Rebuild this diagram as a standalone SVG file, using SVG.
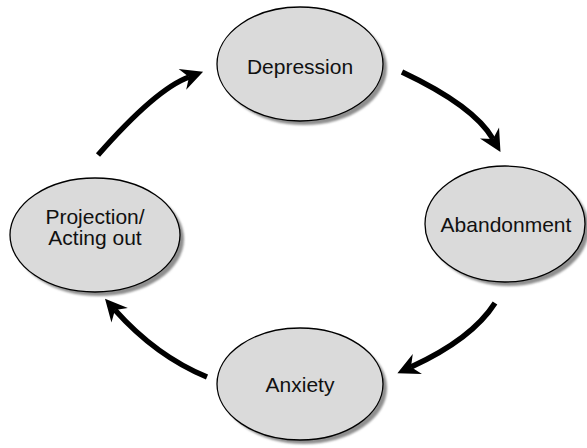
<svg xmlns="http://www.w3.org/2000/svg" width="587" height="448" viewBox="0 0 587 448">
<style>
.shadow{fill:#8f8f8f;stroke:none}
.node{fill:#dadada;stroke:#000;stroke-width:1.3}
.label{font-family:"Liberation Sans",Arial,sans-serif;font-size:21px;fill:#111;text-anchor:middle}
.conn{fill:none;stroke:#000;stroke-width:5.5;marker-end:url(#ah)}
</style>
<defs>
<filter id="blur" x="-10%" y="-10%" width="120%" height="120%"><feGaussianBlur stdDeviation="0.8"/></filter>
<marker id="ah" markerUnits="userSpaceOnUse" markerWidth="40" markerHeight="40" viewBox="-15 -20 40 40" refX="0" refY="0" orient="auto" overflow="visible">
<path d="M15,0 L-7,-11 L0,0 L-7,11 Z" fill="#000"/>
</marker>
</defs>
<rect width="587" height="448" fill="#fff"/>
<g id="depression">
<ellipse class="shadow" cx="304" cy="68" rx="83" ry="57" filter="url(#blur)"/>
<ellipse class="node" cx="300" cy="64" rx="83" ry="57"/>
<text class="label" x="300" y="74">Depression</text>
</g>
<g id="abandonment">
<ellipse class="shadow" cx="509" cy="228" rx="80" ry="58" filter="url(#blur)"/>
<ellipse class="node" cx="505" cy="224" rx="80" ry="58"/>
<text class="label" x="506" y="232">Abandonment</text>
</g>
<g id="anxiety">
<ellipse class="shadow" cx="304" cy="388" rx="83" ry="56" filter="url(#blur)"/>
<ellipse class="node" cx="300" cy="384" rx="83" ry="56"/>
<text class="label" x="300" y="392">Anxiety</text>
</g>
<g id="projection">
<ellipse class="shadow" cx="99" cy="239" rx="85" ry="57" filter="url(#blur)"/>
<ellipse class="node" cx="95" cy="235" rx="85" ry="57"/>
<text class="label" x="95" y="224">Projection/</text>
<text class="label" x="95" y="245">Acting out</text>
</g>
<g id="connectors">
<path class="conn" d="M98,155 Q156,89 189,77"/>
<path class="conn" d="M402,72 Q474,106 493,139"/>
<path class="conn" d="M495,303 Q472,339 411,367"/>
<path class="conn" d="M207,377 Q156,356 115,310"/>
</g>
</svg>
